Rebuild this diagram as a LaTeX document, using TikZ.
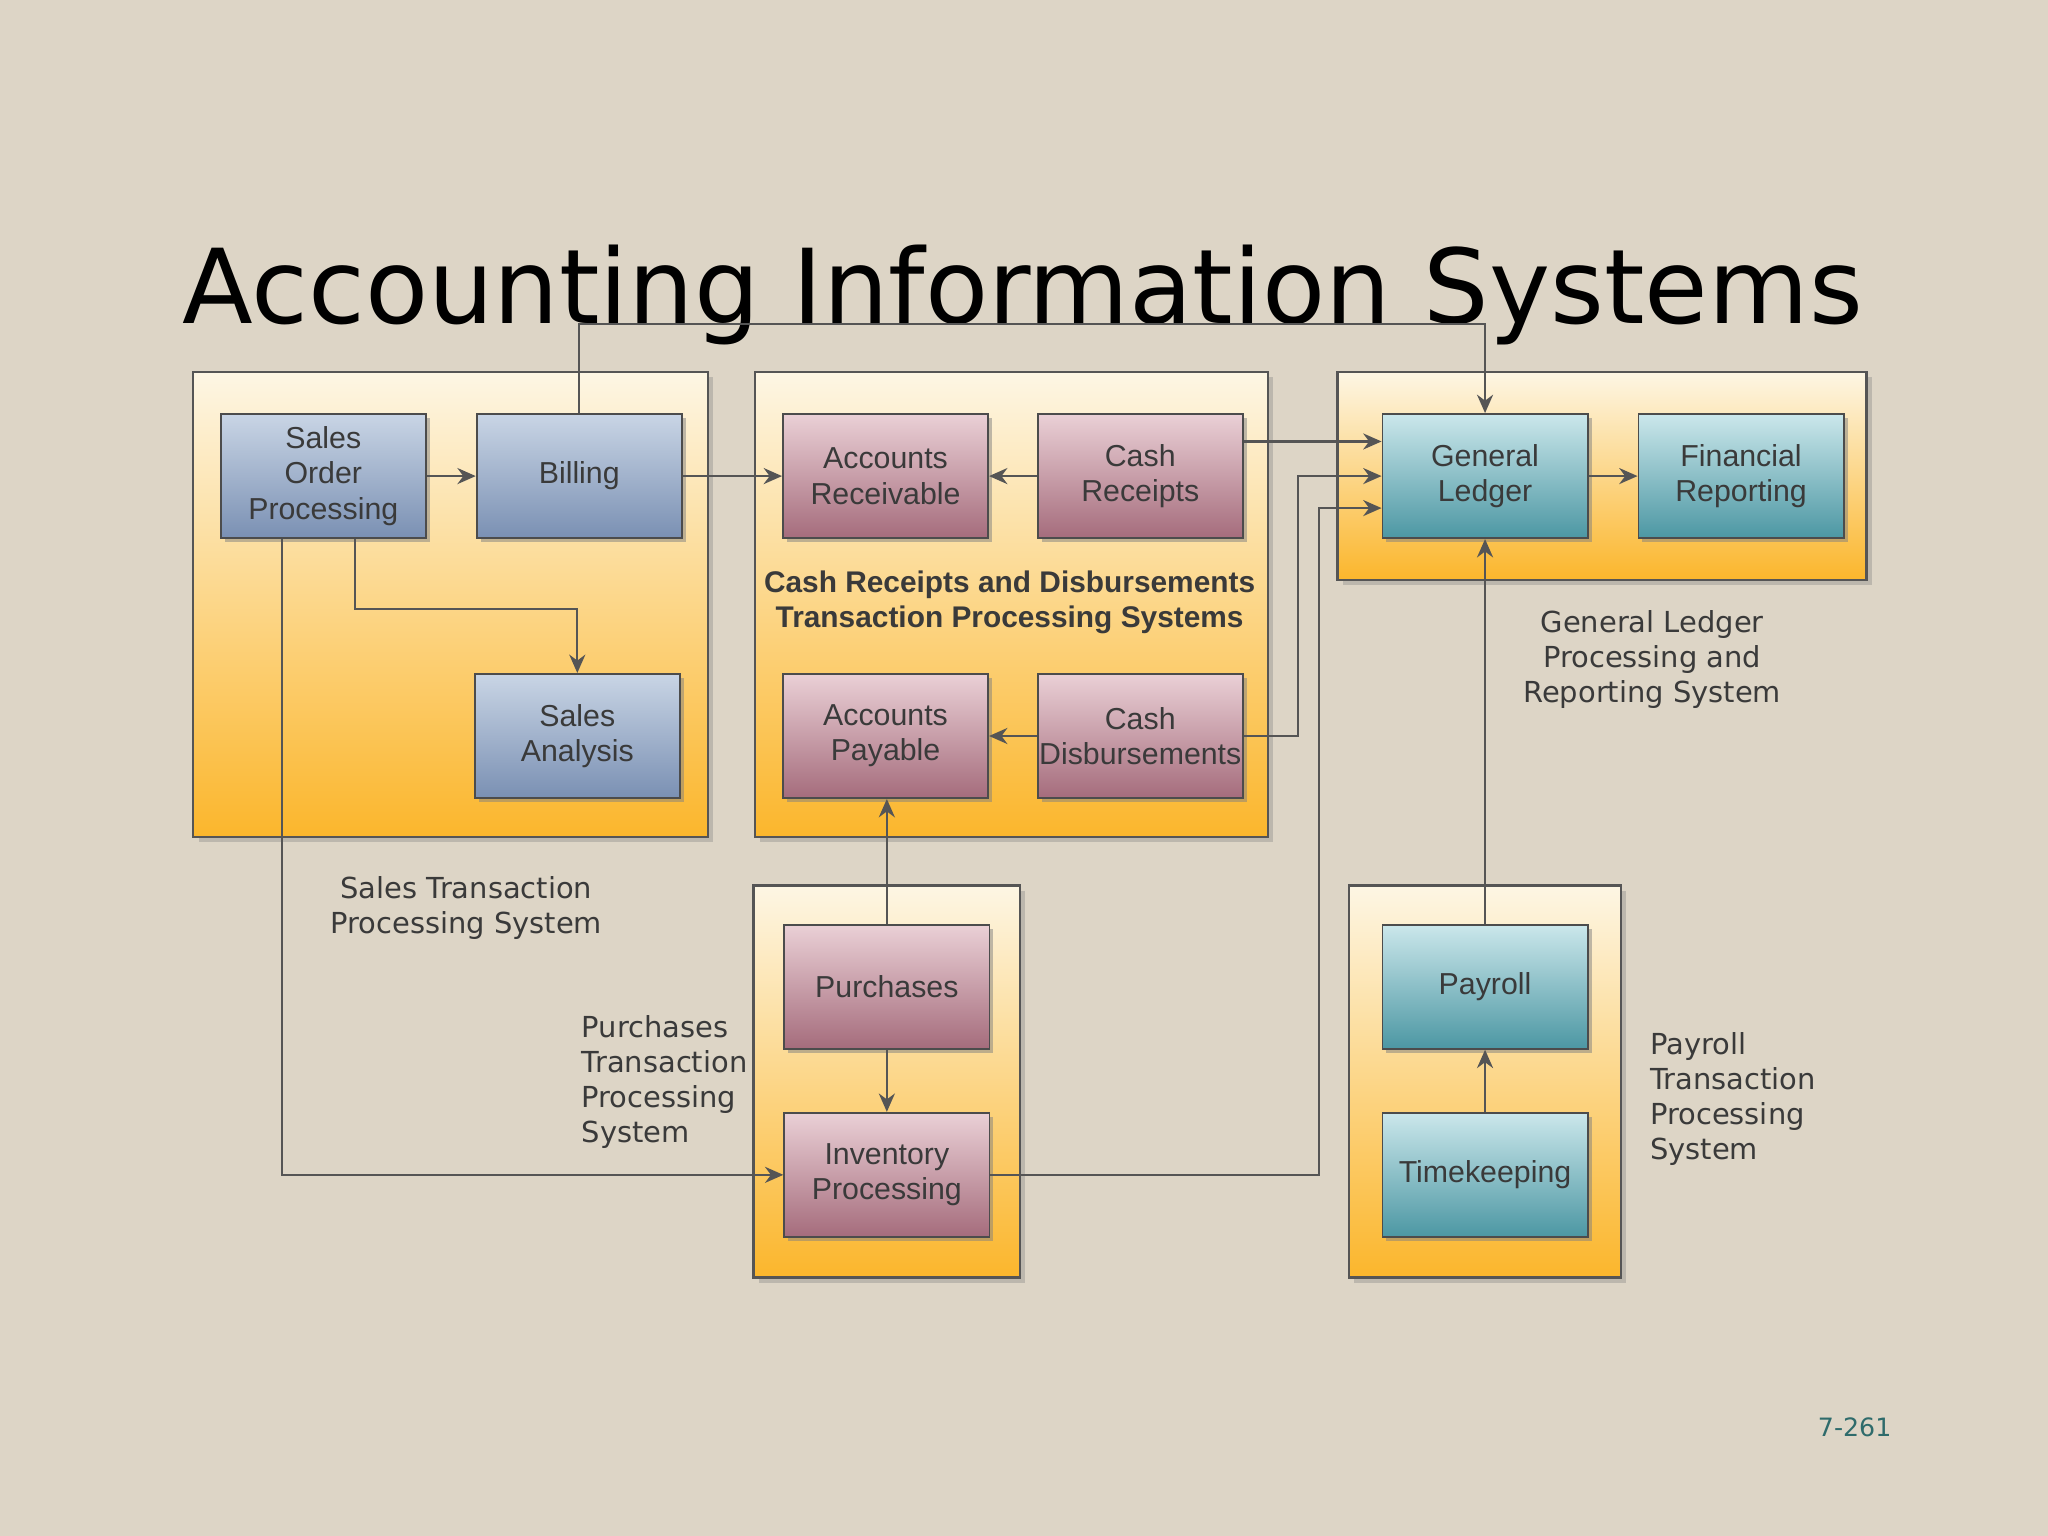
\documentclass[tikz,border=0pt]{standalone}
\usepackage{fontspec}
\setmainfont{DejaVu Sans}
\newfontfamily\boxfont{Liberation Sans}
\usetikzlibrary{calc,arrows.meta,shadows}
\definecolor{bg}{HTML}{DDD5C6}
\definecolor{contTop}{HTML}{FDF6E4}
\definecolor{contBot}{HTML}{FBB62C}
\definecolor{bluT}{HTML}{C9D5E5}
\definecolor{bluB}{HTML}{7A90B3}
\definecolor{pnkT}{HTML}{EAD0D6}
\definecolor{pnkB}{HTML}{A56C7C}
\definecolor{tealT}{HTML}{CBE7EB}
\definecolor{tealB}{HTML}{4C97A3}
\definecolor{txt}{HTML}{3A3A3A}
\definecolor{ln}{HTML}{555555}
\definecolor{num}{HTML}{2E6B6B}
\tikzset{
 cont/.style={draw=ln, line width=0.5pt, top color=contTop, bottom color=contBot, drop shadow={opacity=0.35,shadow xshift=0.04cm,shadow yshift=-0.04cm}},
 pbox/.style={draw=black!70, line width=0.4pt, minimum width=1.57cm, minimum height=0.95cm, inner sep=0pt, align=center, text=txt, font=\boxfont\fontsize{6.6}{7.7}\selectfont, drop shadow={opacity=0.5,shadow xshift=0.03cm,shadow yshift=-0.03cm}},
 blu/.style={pbox, top color=bluT, bottom color=bluB},
 pnk/.style={pbox, top color=pnkT, bottom color=pnkB},
 tea/.style={pbox, top color=tealT, bottom color=tealB},
 con/.style={draw=ln, line width=0.5pt, -{Stealth[length=4pt,width=3.5pt]}},
 lab/.style={text=txt, align=left, font=\fontsize{6.3}{7.6}\selectfont},
}
\begin{document}
\begin{tikzpicture}[x=0.01cm,y=-0.01cm]
\fill[bg] (0,0) rectangle (1568,1176);
\useasboundingbox (0,0) rectangle (1568,1176);
% containers
\shade[cont] (148,285) rectangle (542,641);
\shade[cont] (578,285) rectangle (971,641);
\shade[cont] (1024,285) rectangle (1429,444);
\shade[cont] (577,678) rectangle (781,978);
\shade[cont] (1033,678) rectangle (1241,978);
% title
\node (title) at (783,226) {\fontsize{22.5}{27}\selectfont Accounting Information Systems};
% boxes
\node[blu] (sop) at (247.5,364.5) {Sales\\Order\\Processing};
\node[blu] (bill) at (443.5,364.5) {Billing};
\node[blu] (sa) at (442,563.5) {Sales\\Analysis};
\node[pnk] (ar) at (678,364.5) {Accounts\\Receivable};
\node[pnk] (cr) at (873,364.5) {Cash\\Receipts};
\node[pnk] (ap) at (678,563.5) {Accounts\\Payable};
\node[pnk] (cd) at (873,563.5) {Cash\\Disbursements};
\node[tea] (gl) at (1137,364.5) {General\\Ledger};
\node[tea] (fr) at (1333,364.5) {Financial\\Reporting};
\node[pnk] (pur) at (679,755.5) {Purchases};
\node[pnk] (inv) at (679,899.5) {Inventory\\Processing};
\node[tea] (pay) at (1137,755.5) {Payroll};
\node[tea] (tk) at (1137,899.5) {Timekeeping};
% labels
\node[text=txt, align=center, font=\boxfont\bfseries\fontsize{6.5}{7.7}\selectfont] (lcash) at (773,461) {Cash Receipts and Disbursements\\Transaction Processing Systems};
\node[lab, align=center] (lsales) at (357,695) {Sales Transaction\\Processing System};
\node[lab, anchor=north west] (lpur) at (433,765) {Purchases\\Transaction\\Processing\\System};
\node[lab, align=center] (lgl) at (1265,505) {General Ledger\\Processing and\\Reporting System};
\node[lab, anchor=north west] (lpay) at (1251,778) {Payroll\\Transaction\\Processing\\System};
\node[text=num, font=\fontsize{5.5}{6.5}\selectfont] (pg) at (1420,1093) {7-261};
% connectors
\draw[con] (sop) -- (bill);
\draw[con] (bill) -- (ar);
\draw[con] (cr) -- (ar);
\draw[con] (cd) -- (ap);
\draw[con] (gl) -- (fr);
\draw[con] (bill.north) -- (443.5,248) -| (gl.north);
\draw[con] ($(sop.south)+(24.5,0)$) |- (442,466) -- (sa.north);
\draw[con] ($(sop.south)+(-31.5,0)$) |- (inv.west);
\draw[con] (pur.north) -- (pur.north |- ap.south);
\draw[con] (pur) -- (inv);
\draw[con] (pay) -- (gl);
\draw[con] (tk) -- (pay);
\draw[con] ($(cr.east)+(0,-26.5)$) -- ($(gl.west)+(0,-26.5)$);
\draw[con] (cd.east) -| (994,364.5) -- (gl.west);
\draw[con] (inv.east) -| (1010,389) -- ($(gl.west)+(0,24.5)$);
\end{tikzpicture}
\end{document}
